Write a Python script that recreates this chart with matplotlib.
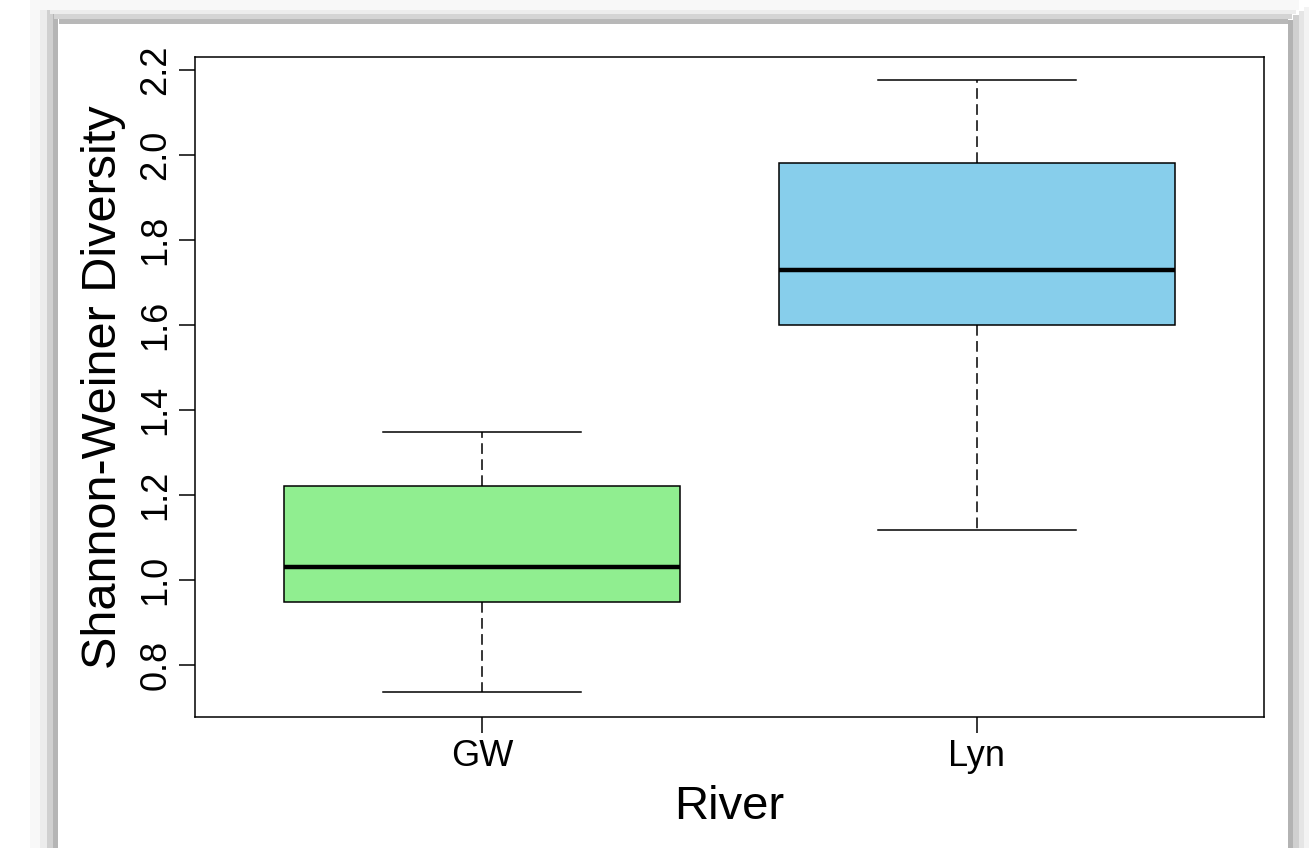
import matplotlib
matplotlib.use('Agg')
import matplotlib.pyplot as plt
from matplotlib.patches import Rectangle

plt.rcParams['font.family'] = ['Liberation Sans', 'DejaVu Sans']

# box statistics
rivers = ['GW', 'Lyn']
whisker_low = [0.737, 1.118]
q1 = [0.948, 1.600]
medians = [1.031, 1.729]
q3 = [1.221, 1.981]
whisker_high = [1.348, 2.176]
colours = ['#90EE90', '#87CEEB']

W, H = 1309, 848
fig = plt.figure(figsize=(W / 100, H / 100), dpi=100)


def band(x0, y0, x1, y1, c):
    # rectangle in pixel coords, y measured from the top
    fig.patches.append(Rectangle((x0 / W, 1 - y1 / H), (x1 - x0) / W, (y1 - y0) / H,
                                 transform=fig.transFigure, facecolor=c,
                                 edgecolor='none', zorder=-5))


# shadow frame round the picture
for x0, x1, c in [(30, 40, '#f8f8f8'), (40, 47, '#ececec'), (47, 53, '#d0d0d0'), (53, 58, '#b5b5b5')]:
    band(x0, y0=(x0 - 30) / 3, x1=x1, y1=H, c=c)
for y0, y1, c in [(0, 10, '#f8f8f8'), (10, 14, '#ececec'), (14, 19, '#d4d4d4'), (19, 24, '#b8b8b8')]:
    band(40 + y0, y0, 1288 + (24 - y1) * 0.8, y1, c)
for x0, x1, c in [(1304, 1309, '#f3f3f3'), (1299, 1304, '#e5e5e5'), (1293, 1299, '#d0d0d0'), (1288, 1293, '#b3b3b3')]:
    band(x0, 24 - (x1 - 1288) * 0.8, x1, H, c)

ax = fig.add_axes([195 / W, 1 - 717 / H, (1264 - 195) / W, (717 - 57) / H])

stats = []
for k in range(len(rivers)):
    stats.append({'label': rivers[k], 'whislo': whisker_low[k], 'q1': q1[k],
                  'med': medians[k], 'q3': q3[k], 'whishi': whisker_high[k],
                  'fliers': []})

bp = ax.bxp(stats, positions=[1, 2], widths=0.8, patch_artist=True,
            showfliers=False,
            boxprops=dict(edgecolor='black', linewidth=1.1),
            medianprops=dict(color='black', linewidth=3.2, solid_capstyle='butt'),
            whiskerprops=dict(color='black', linewidth=1.1, linestyle=(0, (7, 3.5))),
            capprops=dict(color='black', linewidth=1.1), capwidths=0.4)
for patch, c in zip(bp['boxes'], colours):
    patch.set_facecolor(c)

ax.set_xlim(0.42, 2.58)
ax.set_ylim(0.678, 2.2306)
ax.set_yticks([0.8, 1.0, 1.2, 1.4, 1.6, 1.8, 2.0, 2.2])
ax.set_yticklabels([f'{v:.1f}' for v in ax.get_yticks()], rotation=90, va='center')
ax.tick_params(axis='both', length=11.5, width=1.1, labelsize=26, pad=4)
for s in ax.spines.values():
    s.set_linewidth(1.1)

ax.set_xlabel('River', fontsize=34, labelpad=8)
ax.set_ylabel('Shannon-Weiner Diversity', fontsize=35, labelpad=9)

fig.savefig('out.png', dpi=100)
